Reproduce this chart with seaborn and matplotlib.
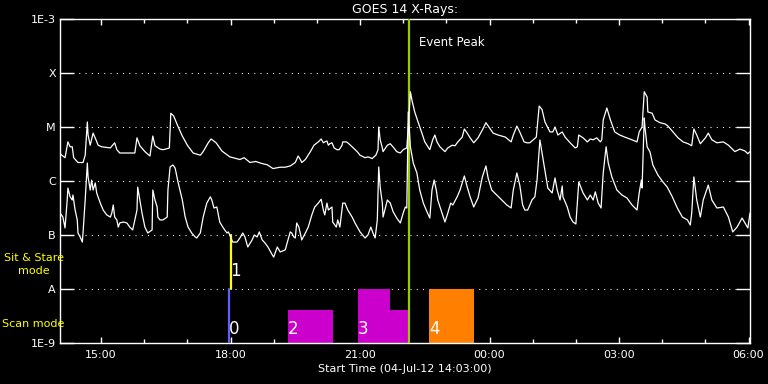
import pandas as pd
import matplotlib
matplotlib.use("Agg")
from matplotlib import pyplot as plt
import matplotlib.dates as mdates
import seaborn as sns

# GOES 14 x-ray flux, minutes after the start time (04-Jul-12 14:03)
start = pd.Timestamp("2012-07-04 14:03:00")

long_min = [0, 7, 11, 14, 17, 19, 25, 32, 35, 38, 39, 42, 46, 50, 53, 58, 70, 76, 79, 83, 97, 104, 107, 111,
            118, 125, 129, 132, 139, 143, 147, 152, 154, 158, 163, 170, 177, 185, 195, 199, 206, 210, 217, 225,
            236, 250, 256, 264, 272, 281, 288, 296, 306, 313, 320, 327, 331, 334, 336, 341, 348, 353, 359, 363,
            366, 368, 371, 373, 375, 378, 381, 385, 388, 392, 393, 398, 400, 406, 413, 417, 424, 428, 434, 435,
            439, 442, 443, 445, 448, 449, 455, 459, 464, 468, 473, 477, 482, 484, 487, 489, 493, 498, 503, 507,
            514, 518, 521, 524, 528, 535, 539, 545, 549, 553, 559, 562, 566, 570, 575, 581, 587, 592, 598, 602,
            609, 619, 627, 630, 635, 639, 645, 649, 653, 662, 666, 670, 674, 681, 685, 688, 692, 698, 702, 709,
            716, 719, 721, 727, 733, 737, 741, 746, 751, 753, 755, 760, 765, 771, 778, 785, 792, 802, 805, 809,
            812, 816, 817, 823, 827, 834, 841, 845, 852, 859, 866, 873, 878, 881, 885, 890, 897, 901, 906, 913,
            922, 929, 938, 945, 952, 956, 959]
long_flux = [3.2e-6, 2.7e-6, 5.3e-6, 4.3e-6, 4.3e-6, 2.7e-6, 2.2e-6, 2.2e-6, 3.0e-6, 1.24e-5, 7.1e-6, 4.6e-6,
             7.7e-6, 5.8e-6, 4.6e-6, 4.3e-6, 4.1e-6, 5.1e-6, 3.8e-6, 3.3e-6, 3.3e-6, 3.3e-6, 6.3e-6, 4.5e-6,
             3.5e-6, 2.9e-6, 6.8e-6, 4.5e-6, 3.9e-6, 3.8e-6, 3.9e-6, 4.1e-6, 1.8e-5, 1.6e-5, 1.1e-5, 6.8e-6,
             4.6e-6, 3.3e-6, 3.0e-6, 3.5e-6, 5.1e-6, 6.0e-6, 5.1e-6, 3.6e-6, 2.8e-6, 2.5e-6, 2.7e-6, 2.2e-6,
             2.3e-6, 2.1e-6, 2.0e-6, 1.7e-6, 1.8e-6, 1.8e-6, 1.9e-6, 2.2e-6, 2.9e-6, 2.5e-6, 2.2e-6, 2.5e-6,
             3.5e-6, 4.6e-6, 5.3e-6, 6.0e-6, 5.1e-6, 5.3e-6, 5.5e-6, 4.6e-6, 4.9e-6, 5.1e-6, 4.1e-6, 3.8e-6,
             3.8e-6, 4.6e-6, 5.3e-6, 5.3e-6, 5.1e-6, 4.3e-6, 3.5e-6, 3.0e-6, 2.7e-6, 2.8e-6, 2.6e-6, 2.7e-6,
             3.0e-6, 3.8e-6, 1.0e-5, 5.8e-6, 4.1e-6, 3.5e-6, 4.6e-6, 4.9e-6, 4.1e-6, 3.5e-6, 3.3e-6, 3.8e-6,
             4.1e-6, 9.6e-6, 4.5e-5, 3.2e-5, 1.9e-5, 1.2e-5, 7.7e-6, 5.3e-6, 3.8e-6, 5.8e-6, 7.1e-6, 5.3e-6,
             4.3e-6, 3.5e-6, 4.1e-6, 4.6e-6, 4.5e-6, 5.3e-6, 6.5e-6, 9.2e-6, 7.7e-6, 6.3e-6, 5.1e-6, 6.3e-6,
             8.8e-6, 1.2e-5, 9.2e-6, 7.7e-6, 7.1e-6, 6.5e-6, 5.3e-6, 7.1e-6, 1.04e-5, 8.1e-6, 5.3e-6, 5.1e-6,
             5.1e-6, 6.5e-6, 2.45e-5, 2.1e-5, 1.24e-5, 8.1e-6, 8.1e-6, 1.0e-5, 7.1e-6, 8.1e-6, 6.5e-6, 5.1e-6,
             4.1e-6, 4.3e-6, 7.1e-6, 6.3e-6, 5.3e-6, 6.0e-6, 5.8e-6, 6.3e-6, 5.3e-6, 5.8e-6, 1.35e-5, 2.25e-5,
             1.35e-5, 8.1e-6, 7.1e-6, 6.5e-6, 6.0e-6, 5.3e-6, 8.1e-6, 1.0e-5, 4.5e-5, 3.6e-5, 1.9e-5, 1.8e-5,
             1.35e-5, 1.2e-5, 1.14e-5, 1.04e-5, 8.1e-6, 6.3e-6, 5.3e-6, 4.9e-6, 4.5e-6, 9.2e-6, 7.1e-6, 4.9e-6,
             6.3e-6, 7.7e-6, 5.8e-6, 5.1e-6, 5.3e-6, 4.6e-6, 3.5e-6, 3.9e-6, 3.6e-6, 3.2e-6, 3.5e-6]

short_min = [0, 4, 7, 10, 11, 14, 17, 18, 21, 24, 25, 28, 31, 32, 35, 38, 39, 42, 44, 46, 49, 51, 56, 60, 65,
             70, 72, 74, 76, 79, 81, 83, 88, 93, 97, 101, 107, 108, 111, 114, 118, 122, 128, 129, 132, 135, 136,
             139, 143, 149, 150, 153, 157, 160, 164, 170, 174, 178, 183, 188, 190, 195, 199, 204, 209, 211, 214,
             218, 222, 227, 232, 234, 236, 240, 246, 250, 254, 257, 261, 267, 270, 274, 277, 281, 285, 289, 295,
             297, 302, 306, 313, 320, 322, 325, 327, 329, 332, 336, 341, 345, 350, 354, 359, 363, 366, 368, 371,
             373, 378, 379, 384, 386, 389, 393, 396, 400, 406, 410, 417, 424, 428, 432, 435, 438, 441, 443, 445,
             448, 449, 455, 459, 463, 468, 473, 477, 480, 482, 484, 487, 491, 496, 500, 505, 510, 514, 517, 520,
             523, 525, 531, 535, 539, 543, 546, 552, 556, 562, 566, 570, 575, 581, 587, 592, 595, 600, 607, 614,
             621, 627, 630, 635, 639, 643, 646, 650, 656, 660, 663, 667, 670, 674, 678, 684, 688, 691, 695, 698,
             699, 705, 709, 713, 717, 721, 727, 733, 737, 741, 744, 748, 752, 755, 759, 762, 767, 774, 781, 788,
             795, 802, 805, 808, 809, 812, 813, 816, 820, 824, 831, 838, 844, 851, 858, 865, 872, 876, 878, 881,
             885, 890, 894, 901, 906, 913, 922, 929, 935, 941, 948, 952, 956, 959]
short_flux = [2.55e-7, 2.15e-7, 1.35e-7, 4.45e-7, 7.4e-7, 5.1e-7, 4.45e-7, 5.5e-7, 2.9e-7, 1.9e-7, 1.09e-7,
              9.2e-8, 7.4e-8, 1.09e-7, 4.45e-7, 2.15e-6, 1.19e-6, 6.8e-7, 1.04e-6, 6.8e-7, 9.2e-7, 6.0e-7,
              3.9e-7, 2.9e-7, 2.35e-7, 2.15e-7, 2.55e-7, 3.6e-7, 2.15e-7, 1.9e-7, 1.4e-7, 1.67e-7, 1.74e-7,
              1.67e-7, 1.4e-7, 1.24e-7, 2.9e-7, 7.7e-7, 4.45e-7, 2.55e-7, 1.4e-7, 1.09e-7, 1.24e-7, 6.8e-7,
              4.45e-7, 3.3e-7, 2.15e-7, 1.9e-7, 1.9e-7, 2.15e-7, 6.8e-7, 1.82e-6, 1.98e-6, 1.74e-6, 9.6e-7,
              4.45e-7, 2.15e-7, 1.4e-7, 1.09e-7, 9.2e-8, 8.8e-8, 1.09e-7, 2.15e-7, 3.9e-7, 5.1e-7, 4.45e-7,
              3.16e-7, 3.3e-7, 1.74e-7, 1.35e-7, 1.09e-7, 1.14e-7, 1.0e-7, 7.4e-8, 7.4e-8, 8.8e-8, 1.09e-7,
              9.2e-8, 6.0e-8, 8.1e-8, 1.0e-7, 9.2e-8, 1.14e-7, 8.1e-8, 7.1e-8, 6.0e-8, 4.3e-8, 3.9e-8, 6.0e-8,
              4.85e-8, 5.3e-8, 1.14e-7, 1.09e-7, 9.2e-8, 8.8e-8, 1.67e-7, 1.4e-7, 8.1e-8, 1.09e-7, 1.4e-7,
              2.35e-7, 3.3e-7, 3.9e-7, 4.6e-7, 2.9e-7, 2.35e-7, 3.9e-7, 2.9e-7, 3.3e-7, 1.74e-7, 1.4e-7,
              1.9e-7, 1.4e-7, 3.9e-7, 3.9e-7, 2.9e-7, 2.15e-7, 1.67e-7, 1.14e-7, 8.8e-8, 1.0e-7, 1.4e-7,
              1.09e-7, 8.8e-8, 1.9e-7, 1.82e-6, 7.7e-7, 3.9e-7, 2.15e-7, 4.45e-7, 3.9e-7, 2.7e-7, 2.06e-7,
              1.67e-7, 2.55e-7, 3.3e-7, 3.16e-7, 1.9e-5, 4.3e-6, 2.15e-6, 1.41e-6, 6.8e-7, 3.9e-7, 2.7e-7,
              2.06e-7, 6.8e-7, 1.04e-6, 6.8e-7, 4.45e-7, 2.55e-7, 1.74e-7, 2.55e-7, 3.9e-7, 3.6e-7, 5.1e-7,
              6.8e-7, 1.24e-6, 7.7e-7, 5.1e-7, 3.3e-7, 4.85e-7, 1.19e-6, 1.9e-6, 1.14e-6, 6.8e-7, 5.5e-7,
              4.45e-7, 3.6e-7, 3.16e-7, 6.8e-7, 1.41e-6, 8.4e-7, 3.6e-7, 2.9e-7, 2.9e-7, 4.45e-7, 5.1e-7,
              1.04e-6, 5.75e-6, 3.3e-6, 1.6e-6, 7.4e-7, 6.0e-7, 1.14e-6, 6.8e-7, 4.45e-7, 8.1e-7, 5.1e-7,
              3.3e-7, 2.15e-7, 1.74e-7, 1.6e-7, 9.6e-7, 6.0e-7, 4.45e-7, 5.5e-7, 4.45e-7, 6.3e-7, 3.9e-7,
              3.16e-7, 1.41e-6, 4.3e-6, 2.15e-6, 1.19e-6, 6.8e-7, 5.5e-7, 4.85e-7, 3.6e-7, 2.9e-7, 6.0e-7,
              1.04e-6, 7.4e-7, 1.47e-5, 1.0e-5, 4.3e-6, 3.45e-6, 1.98e-6, 1.29e-6, 9.6e-7, 7.7e-7, 5.1e-7,
              3.16e-7, 2.15e-7, 1.9e-7, 1.53e-7, 2.55e-7, 1.19e-6, 4.45e-7, 2.15e-7, 4.45e-7, 8.4e-7, 4.45e-7,
              3.16e-7, 3.3e-7, 2.15e-7, 1.14e-7, 1.4e-7, 2.06e-7, 1.67e-7, 1.35e-7, 2.55e-7]

# observing modes
stare_time = "2012-07-04 18:00"   # mode 1, sit & stare
scan0_time = "2012-07-04 17:58"   # mode 0, scan
scan_start = ["2012-07-04 19:20", "2012-07-04 20:57", "2012-07-04 21:42", "2012-07-04 22:36"]
scan_end = ["2012-07-04 20:22", "2012-07-04 21:42", "2012-07-04 22:07", "2012-07-04 23:39"]
scan_top = [4.1e-9, 1e-8, 4.1e-9, 1e-8]
scan_colors = ["#cc00cc", "#cc00cc", "#cc00cc", "#ff8000"]
scan_labels = ["2", "3", "", "4"]
peak_time = "2012-07-04 22:08"

level_vals = [1e-9, 1e-8, 1e-7, 1e-6, 1e-5, 1e-4, 1e-3]
level_names = ["1E-9", "A", "B", "C", "M", "X", "1E-3"]

sns.set_theme(style="ticks", rc={
    "axes.facecolor": "black", "figure.facecolor": "black", "savefig.facecolor": "black",
    "axes.edgecolor": "white", "text.color": "white", "axes.labelcolor": "white",
    "xtick.color": "white", "ytick.color": "white", "axes.linewidth": 1.0,
})
plt.rcParams["font.family"] = ["DejaVu Sans"]

df = pd.concat([
    pd.DataFrame({"time": start + pd.to_timedelta(long_min, unit="m"), "flux": long_flux, "channel": "long"}),
    pd.DataFrame({"time": start + pd.to_timedelta(short_min, unit="m"), "flux": short_flux, "channel": "short"}),
])

fig = plt.figure(figsize=(7.68, 3.84), dpi=100)
ax = fig.add_axes([60 / 768, 41 / 384, 690 / 768, 324 / 384])
ax.set_yscale("log")

sns.lineplot(data=df, x="time", y="flux", hue="channel", palette={"long": "white", "short": "white"},
             estimator=None, legend=False, linewidth=0.9, ax=ax, zorder=4)

# scan-mode blocks
x0 = mdates.date2num(pd.to_datetime(scan_start))
x1 = mdates.date2num(pd.to_datetime(scan_end))
ax.bar(x0, [t - 1e-9 for t in scan_top], width=x1 - x0, bottom=1e-9, align="edge",
       color=scan_colors, linewidth=0, zorder=2)
for xs, lab in zip(pd.to_datetime(scan_start), scan_labels):
    if lab:
        ax.text(xs, 1.25e-9, lab, color="white", fontsize=12, ha="left", va="bottom", zorder=5)

st = pd.Timestamp(stare_time)
sc = pd.Timestamp(scan0_time)
ax.plot([st, st], [1e-8, 1e-7], color="#ffff00", lw=1.6, zorder=3)
ax.plot([sc, sc], [1e-9, 1e-8], color="#6060ff", lw=1.6, zorder=3)
ax.text(st, 1.45e-8, "1", color="white", fontsize=12, ha="left", va="bottom", zorder=5)
ax.text(sc, 1.25e-9, "0", color="white", fontsize=12, ha="left", va="bottom", zorder=5)

pk = pd.Timestamp(peak_time)
ax.axvline(pk, color="#99cc00", lw=1.6, zorder=3)
ax.text(pk + pd.Timedelta(minutes=14), 3.6e-4, "Event Peak", color="white", fontsize=8.5,
        ha="left", va="center")

ax.set_xlim(start, start + pd.Timedelta(minutes=959))
ax.set_ylim(1e-9, 1e-3)
ax.set_yticks(level_vals)
ax.set_yticklabels(level_names)
ax.yaxis.set_minor_locator(plt.NullLocator())
ax.yaxis.grid(True, which="major", color="white", lw=0.75, ls=(0, (1, 5)))
ax.set_axisbelow(True)

ax.xaxis.set_major_locator(mdates.HourLocator(byhour=range(0, 24, 3)))
ax.xaxis.set_minor_locator(mdates.HourLocator())
ax.xaxis.set_major_formatter(mdates.DateFormatter("%H:%M"))

ax.tick_params(axis="y", which="major", direction="in", length=10, width=1,
               left=True, right=True, labelsize=8, pad=3)
ax.tick_params(axis="x", which="major", direction="in", length=4.3, width=1,
               top=True, bottom=True, labelsize=8, pad=5)
ax.tick_params(axis="x", which="minor", direction="in", length=3, width=1, top=True, bottom=True)
for s in ax.spines.values():
    s.set_visible(True)
    s.set_color("white")

ax.set_xlabel("")
ax.set_ylabel("")

# mode annotations on the left
ax.text(-0.038, 2.8e-8, "Sit & Stare\nmode", color="#ffff00", fontsize=8, ha="center", va="center",
        transform=ax.get_yaxis_transform(), linespacing=1.4)
ax.text(-0.084, 2.25e-9, "Scan mode", color="#ffff00", fontsize=8, ha="left", va="center",
        transform=ax.get_yaxis_transform())

fig.text(405 / 768, 1 - 10 / 384, "GOES 14 X-Rays:", color="white", fontsize=9, ha="center", va="center")
fig.text(405 / 768, 1 - 369 / 384, "Start Time (04-Jul-12 14:03:00)", color="white", fontsize=8,
         ha="center", va="center")

fig.savefig("out.png", dpi=100, facecolor="black")
